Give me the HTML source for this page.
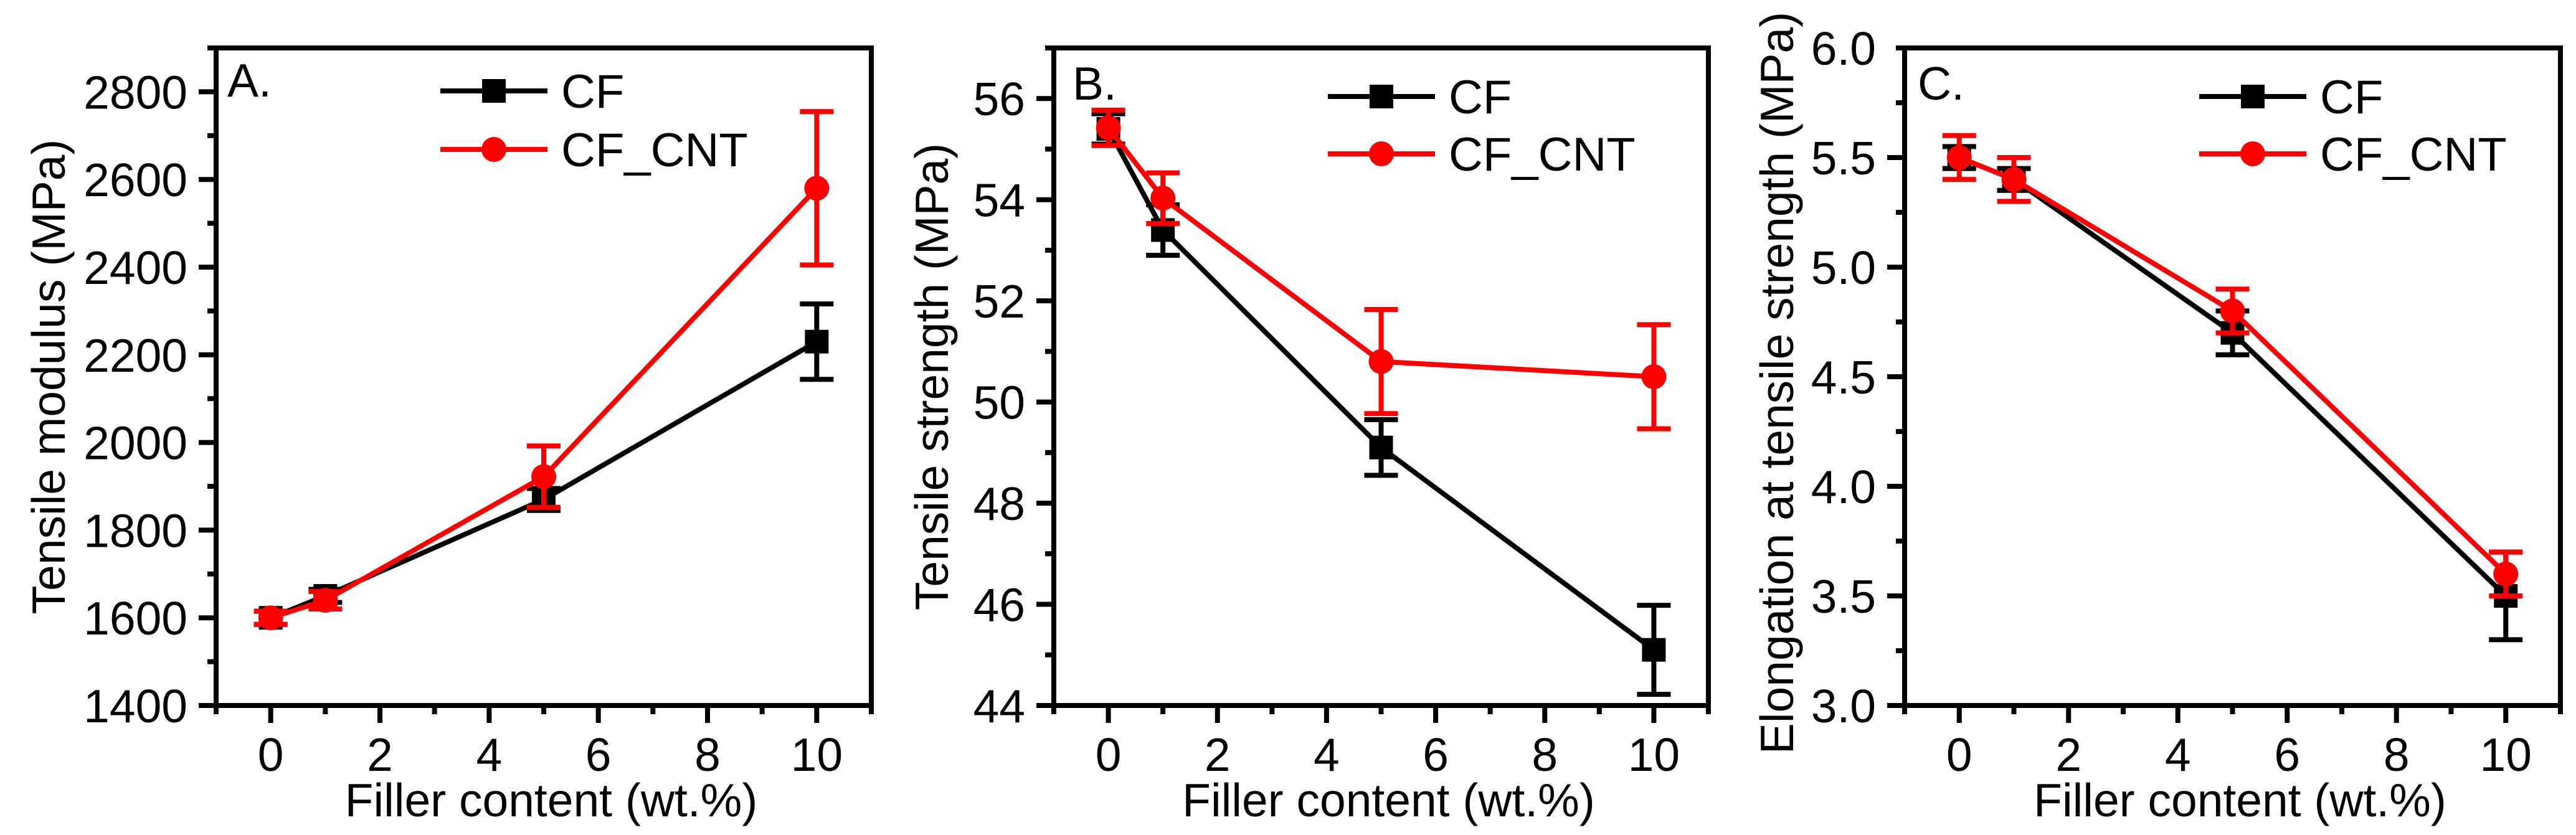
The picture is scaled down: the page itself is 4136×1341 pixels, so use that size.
<!DOCTYPE html>
<html><head><meta charset="utf-8"><style>
html,body{margin:0;padding:0;background:#fff;}
svg{display:block;font-family:"Liberation Sans",Arial,sans-serif;}
</style></head><body>
<svg id="fig" width="4136" height="1341" viewBox="0 0 4136 1341" xmlns="http://www.w3.org/2000/svg"></svg>
<script>
const xValues = [0, 1, 5, 10];
const xTicks = [0, 2, 4, 6, 8, 10];
// Panel A: tensile modulus
const aCF = [1600, 1650, 1870, 2230];
const aCFerr = [15, 15, 25, 86];
const aCNT = [1600, 1640, 1922, 2580];
const aCNTerr = [15, 20, 70, 175];
const aTicks = [1400, 1600, 1800, 2000, 2200, 2400, 2600, 2800];
// Panel B: tensile strength
const bCF = [55.4, 53.4, 49.1, 45.1];
const bCFerr = [0.3, 0.5, 0.55, 0.88];
const bCNT = [55.42, 54.03, 50.8, 50.5];
const bCNTerr = [0.35, 0.5, 1.03, 1.03];
const bTicks = [44, 46, 48, 50, 52, 54, 56];
// Panel C: elongation
const cCF = [5.5, 5.4, 4.7, 3.5];
const cCFerr = [0.05, 0.05, 0.1, 0.2];
const cCNT = [5.5, 5.4, 4.8, 3.6];
const cCNTerr = [0.1, 0.1, 0.1, 0.1];
const cTicks = ["3.0", "3.5", "4.0", "4.5", "5.0", "5.5", "6.0"];

const NS = "http://www.w3.org/2000/svg";
const svg = document.getElementById('fig');
function mk(tag, attrs, parent) {
  const e = document.createElementNS(NS, tag);
  for (const k in attrs) e.setAttribute(k, attrs[k]);
  (parent || svg).appendChild(e);
  return e;
}

const panels = [
  {id:'a', L:347, R:1399, ymin:1400, ymax:2900, ticks:aTicks, minor:100, cf:aCF, cfe:aCFerr, cnt:aCNT, cnte:aCNTerr,
   label:'A.', lx:365, ytitle:'Tensile modulus (MPa)', ytx:77, lgx:707, lgy1:146, lgy2:240},
  {id:'b', L:1692, R:2743, ymin:44, ymax:57, ticks:bTicks, minor:1, cf:bCF, cfe:bCFerr, cnt:bCNT, cnte:bCNTerr,
   label:'B.', lx:1722, ytitle:'Tensile strength (MPa)', ytx:1495, lgx:2132, lgy1:155, lgy2:247},
  {id:'c', L:3058, R:4111, ymin:3, ymax:6, ticks:cTicks, minor:0.25, cf:cCF, cfe:cCFerr, cnt:cCNT, cnte:cCNTerr,
   label:'C.', lx:3079, ytitle:'Elongation at tensile strength (MPa)', ytx:2852, lgx:3531, lgy1:155, lgy2:247}
];
const T = 77, B = 1133;

panels.forEach(p => {
  const g = mk('g', {});
  
  
  const xs = v => p.L + (v + 1) / 12 * (p.R - p.L);
  const ys = v => B - (v - p.ymin) / (p.ymax - p.ymin) * (B - T);

  // frame
  const fr = mk('rect', {x:p.L, y:T, width:p.R - p.L, height:B - T, fill:'none', stroke:'#000', 'stroke-width':8}, g);
  
  

  // x ticks
  for (let v = -1; v <= 11; v++) {
    const major = v >= 0 && v <= 10 && v % 2 === 0;
    const t = mk('line', {x1:xs(v), x2:xs(v), y1:B, y2:B + (major ? 28 : 14), stroke:'#000', 'stroke-width':8}, g);
    
    
  }
  xTicks.forEach(v => {
    const t = mk('text', {x:xs(v), y:1238, 'font-size':75, 'text-anchor':'middle'}, g);
    t.textContent = v;
    
    
  });
  // y ticks
  const n = Math.round((p.ymax - p.ymin) / p.minor);
  for (let i = 0; i <= n; i++) {
    const v = p.ymin + i * p.minor;
    const major = i % 2 === 0 && i < n;
    const t = mk('line', {x1:p.L - (major ? 28 : 14), x2:p.L, y1:ys(v), y2:ys(v), stroke:'#000', 'stroke-width':8}, g);
    
    
  }
  p.ticks.forEach(v => {
    const t = mk('text', {x:p.L - 46, y:ys(parseFloat(v)) + 27, 'font-size':75, 'text-anchor':'end'}, g);
    t.textContent = v;
    
    
  });
  // titles
  const xt = mk('text', {x:(p.L + p.R) / 2 + 12, y:1311, 'font-size':75, 'text-anchor':'middle'}, g);
  xt.textContent = 'Filler content (wt.%)';
  
  
  const yt = mk('text', {x:0, y:0, 'font-size':75, 'text-anchor':'middle', transform:`translate(${p.ytx + 27},${p.id === 'c' ? 615 : 605}) rotate(-90)`}, g);
  yt.textContent = p.ytitle;
  
  
  const pl = mk('text', {x:p.lx, y:T + 78 + (p.id === 'a' ? 0 : 5), 'font-size':75}, g);
  pl.textContent = p.label;
  
  

  // series
  const series = [
    {vals:p.cf, errs:p.cfe, color:'#000', shape:'square', name:'cf'},
    {vals:p.cnt, errs:p.cnte, color:'#f00', shape:'circle', name:'cf-cnt'}
  ];
  series.forEach(s => {
    const sg = mk('g', {}, g);
    
    
    const pts = xValues.map((x, i) => xs(x) + ',' + ys(s.vals[i])).join(' ');
    const ln = mk('polyline', {points:pts, fill:'none', stroke:s.color, 'stroke-width':8}, sg);
    
    
    xValues.forEach((x, i) => {
      const cx = xs(x), cy = ys(s.vals[i]);
      const hi = ys(s.vals[i] + s.errs[i]), lo = ys(s.vals[i] - s.errs[i]);
      const eb = mk('path', {d:`M${cx},${hi}V${lo}M${cx - 27},${hi}H${cx + 27}M${cx - 27},${lo}H${cx + 27}`, stroke:s.color, 'stroke-width':8, fill:'none'}, sg);
      
      
      let m;
      if (s.shape === 'square') m = mk('rect', {x:cx - 19, y:cy - 19, width:38, height:38, fill:s.color}, sg);
      else m = mk('circle', {cx:cx, cy:cy, r:20, fill:s.color}, sg);
      
      
    });
  });

  // legend
  const lg = mk('g', {}, g);
  
  
  [[p.lgy1, '#000', 'CF', 'square'], [p.lgy2, '#f00', 'CF_CNT', 'circle']].forEach(([y, c, txt, sh]) => {
    const eg = mk('g', {}, lg);
    
    
    mk('line', {x1:p.lgx, x2:p.lgx + 172, y1:y, y2:y, stroke:c, 'stroke-width':8}, eg);
    const mx = p.lgx + 86;
    if (sh === 'square') mk('rect', {x:mx - 19, y:y - 19, width:38, height:38, fill:c}, eg);
    else mk('circle', {cx:mx, cy:y, r:20, fill:c}, eg);
    const t = mk('text', {x:p.lgx + 194, y:y + 27, 'font-size':76}, eg);
    t.textContent = txt;
  });
});
</script>
</body></html>
